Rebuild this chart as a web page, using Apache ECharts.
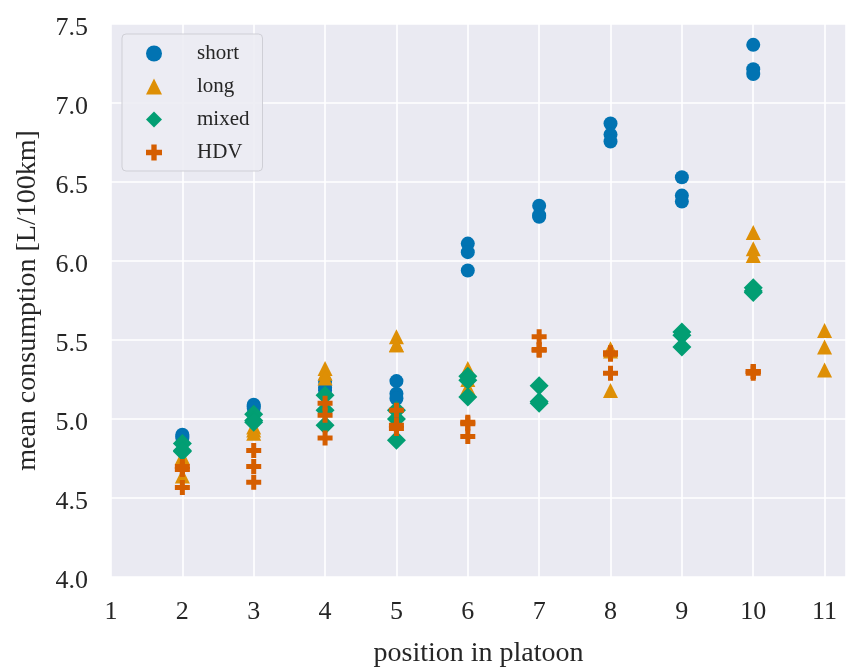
<!DOCTYPE html>
<html>
<head>
<meta charset="utf-8">
<script src="https://cdn.jsdelivr.net/npm/echarts@6/dist/echarts.min.js"></script>
<style>html,body{margin:0;padding:0;background:#fff}#c{width:846px;height:667px}</style>
</head>
<body>
<div id="c"></div>
<script>
// positions in platoon and mean consumption values [L/100km]
const shortX = [2,2,2, 3,3,3, 4,4,4, 5,5,5, 6,6,6, 7,7,7, 8,8,8, 9,9,9, 10,10,10];
const shortY = [4.90,4.89,4.88, 5.09,5.08,5.07, 5.235,5.20,5.18, 5.24,5.16,5.13, 6.11,6.056,5.94, 6.35,6.29,6.28, 6.87,6.80,6.756, 6.53,6.414,6.376, 7.368,7.214,7.183];

const longX = [2,2,2, 3,3,3, 4,4,4, 5,5,5, 6,6,6, 8,8,8, 10,10,10, 11,11,11];
const longY = [4.76,4.72,4.64, 4.95,4.93,4.91, 5.32,5.29,5.26, 5.52,5.47,5.47, 5.32,5.25,5.20, 5.445,5.43,5.18, 6.18,6.077,6.035, 5.56,5.456,5.31];

const mixedX = [2,2,2, 3,3,3, 4,4,4, 5,5,5, 6,6,6, 7,7,7, 9,9,9, 10,10,10];
const mixedY = [4.845,4.80,4.795, 5.03,4.99,4.98, 5.15,5.055,4.96, 5.055,5.00,4.866, 5.27,5.245,5.14, 5.21,5.11,5.10, 5.55,5.53,5.456, 5.83,5.81,5.80];

const hdvX = [2,2,2, 3,3,3, 4,4,4, 5,5,5, 6,6,6, 7,7,7, 8,8,8, 10,10,10];
const hdvY = [4.70,4.68,4.567, 4.80,4.70,4.60, 5.10,5.024,4.88, 5.055,4.96,4.94, 4.98,4.97,4.89, 5.52,5.435,5.44, 5.42,5.41,5.29, 5.30,5.30,5.29];

const seriesNames = ['short','long','mixed','HDV'];
const xTicks = [1,2,3,4,5,6,7,8,9,10,11];
const yTicks = [4.0,4.5,5.0,5.5,6.0,6.5,7.0,7.5];

const PLUS = 'path://M1,0H2V1H3V2H2V3H1V2H0V1H1Z';
const colors = ['#0173b2','#de8f05','#029e73','#d55e00'];
const symbols = ['circle','triangle','diamond',PLUS];
const sizes = [14,15,19,15];
const xs = [shortX,longX,mixedX,hdvX];
const ys = [shortY,longY,mixedY,hdvY];

const font = 'Liberation Serif, Times New Roman, serif';
const txt = '#262626';

const series = seriesNames.map((n,i)=>({
  name:n, type:'scatter', symbol:symbols[i], symbolSize:sizes[i],
  itemStyle:{color:colors[i], opacity:1},
  data: xs[i].map((x,j)=>[x, ys[i][j]]),
  z: 2+i
}));

const chart = echarts.init(document.getElementById('c'), null, {renderer:'canvas'});
chart.setOption({
  animation:false,
  backgroundColor:'#ffffff',
  grid:{left:111, right:0, top:24, bottom:90, show:true, backgroundColor:'#eaeaf2', borderWidth:0,
        containLabel:false, outerBoundsMode:'none'},
  legend:{
    orient:'vertical', left:122, top:34,
    padding:[9,13,8,24], itemGap:12, itemWidth:16, itemHeight:16,
    backgroundColor:'rgba(236,236,243,0.9)', borderColor:'#cfcfd6', borderWidth:1, borderRadius:4,
    textStyle:{fontFamily:font, fontSize:21, color:txt, padding:[0,0,0,30], lineHeight:21},
    data: seriesNames.map((n,i)=>({name:n, icon:symbols[i], itemStyle:{color:colors[i]}}))
  },
  xAxis:{
    type:'value', min:xTicks[0], max:11.3, interval:1,
    name:'position in platoon', nameLocation:'middle', nameGap:63,
    nameTextStyle:{fontFamily:font, fontSize:28, color:txt},
    axisLine:{show:false}, axisTick:{show:false},
    splitLine:{show:true, lineStyle:{color:'#ffffff', width:1.6}},
    axisLabel:{fontFamily:font, fontSize:26, color:txt, margin:22,
      formatter:v=> xTicks.indexOf(Math.round(v*1000)/1000)>=0 ? String(v) : ''}
  },
  yAxis:{
    type:'value', min:yTicks[0], max:yTicks[yTicks.length-1], interval:0.5,
    name:'mean consumption [L/100km]', nameLocation:'middle', nameGap:69,
    nameTextStyle:{fontFamily:font, fontSize:28, color:txt},
    axisLine:{show:false}, axisTick:{show:false},
    splitLine:{show:true, lineStyle:{color:'#ffffff', width:1.6}},
    axisLabel:{fontFamily:font, fontSize:26, color:txt, margin:23, verticalAlign:'top', lineHeight:9,
      formatter:v=>v.toFixed(1)}
  },
  series: series
});
</script>
</body>
</html>
